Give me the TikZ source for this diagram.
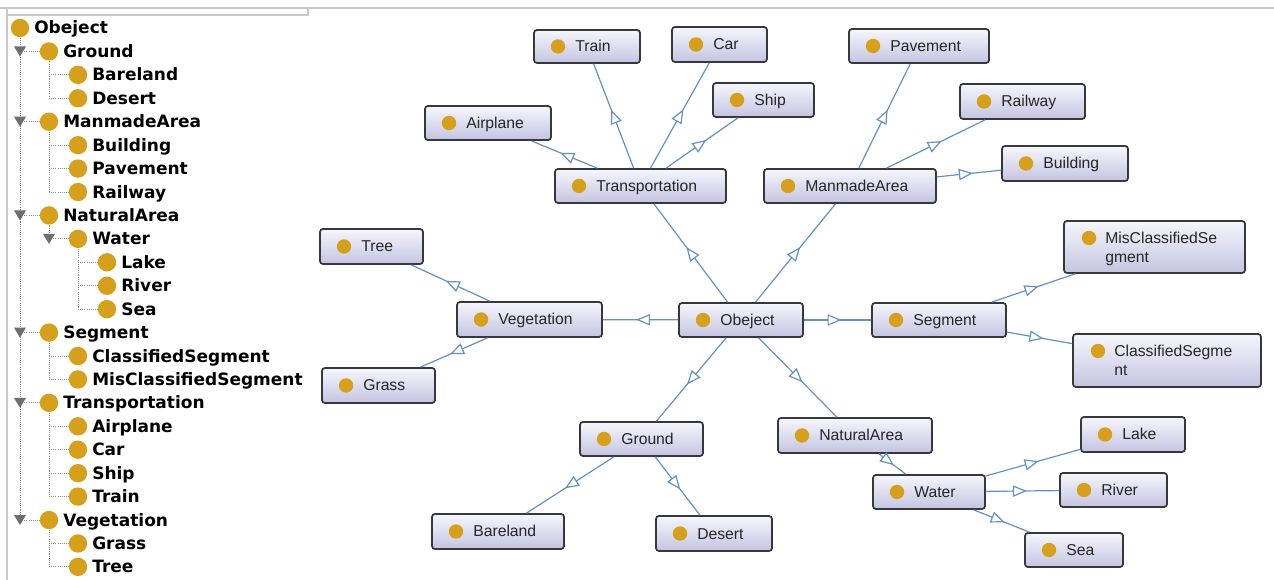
\documentclass[tikz,border=0pt]{standalone}
\usepackage{fontspec}
\setmainfont{Liberation Sans}
\newfontfamily\treefont{DejaVu Sans}
\usetikzlibrary{calc,arrows.meta,decorations.markings}
\definecolor{edgec}{RGB}{98,146,196}
\definecolor{dotc}{RGB}{214,160,28}
\definecolor{boxline}{RGB}{55,55,60}
\definecolor{boxtop}{RGB}{246,246,252}
\definecolor{boxbot}{RGB}{196,196,226}
\definecolor{framec}{RGB}{200,200,200}
\definecolor{treeline}{RGB}{140,140,140}
\definecolor{tric}{RGB}{110,110,110}
\tikzset{
 cbox/.style={draw=boxline, line width=1.3pt, rounded corners=2.2pt, top color=boxtop, bottom color=boxbot, inner sep=0pt},
 ctext/.style={inner sep=0pt, text=black!85, font=\fontsize{11.8pt}{14pt}\selectfont},
 ttext/.style={inner sep=0pt, font=\treefont\bfseries\fontsize{12.75pt}{15pt}\selectfont},
 isa/.style={draw=edgec, line width=0.9pt, postaction={decorate},
   decoration={markings, mark=at position 0.56 with {\arrow{Triangle[length=10.5pt, width=8.5pt, color=edgec, fill=white, line width=0.9pt]}}}},
 tline/.style={draw=treeline, dash pattern=on 0.8pt off 0.8pt, line width=0.7pt},
}
\newcommand\cls[6]{%
 \node[cbox, minimum width={(#4-#2)*0.75pt}, minimum height={(#5-#3)*0.75pt}] (#1) at ({(#2+#4)/2},{(#3+#5)/2}) {};
 \fill[dotc] ({#2+24},{(#3+#5)/2}) circle[radius=5.4pt];
 \node[ctext, anchor=base west] (#1-t) at ({#2+41},{(#3+#5)/2+5.5}) {#6};
}
\newcommand\clstwo[7]{%
 \node[cbox, minimum width={(#4-#2)*0.75pt}, minimum height={(#5-#3)*0.75pt}] (#1) at ({(#2+#4)/2},{(#3+#5)/2}) {};
 \fill[dotc] ({#2+25},{#3+17}) circle[radius=5.4pt];
 \node[ctext, anchor=base west] (#1-t) at ({#2+41},{#3+23}) {#6};
 \node[ctext, anchor=base west] (#1-u) at ({#2+41},{#3+42}) {#7};
}
\newcommand\titem[4]{%
 \fill[dotc] ({20+29*#2},{28+23.43*#3}) circle[radius=6.9pt];
 \node[ttext, anchor=base west] (#1) at ({34+29*#2},{28+23.43*#3+6}) {#4};
}
\newcommand\ttri[2]{\fill[tric] ({#1-6},{28+23.43*#2-5}) -- ({#1+6},{28+23.43*#2-5}) -- (#1,{28+23.43*#2+5}) -- cycle;}
\newcommand\tstub[3]{\draw[tline] (#1,{28+23.43*#3}) -- (#2,{28+23.43*#3});}
\newcommand\tvert[3]{\draw[tline] (#1,{28+23.43*#2+10}) -- (#1,{28+23.43*#3});}
\begin{document}
\begin{tikzpicture}[x=0.75pt,y=-0.75pt]
\useasboundingbox (0,0) rectangle (1274,580);
\fill[white] (0,0) rectangle (1274,580);
% frame
\draw[framec, line width=1.2pt] (0,8) -- (1274,8);
\draw[framec, line width=0.8pt] (7,8) rectangle (308,15);
\draw[framec, line width=0.8pt] (7,8) -- (7,580);
% tree lines
\tvert{20}{0}{21}
\foreach \r in {1,4,8,13,16,21} {\tstub{20}{40}{\r}}
\tvert{49}{1}{3}
\tvert{49}{4}{7}
\tvert{49}{8}{9}
\tvert{49}{13}{15}
\tvert{49}{16}{20}
\tvert{49}{21}{23}
\foreach \r in {2,3,5,6,7,9,14,15,17,18,19,20,22,23} {\tstub{49}{69}{\r}}
\tvert{78}{9}{12}
\foreach \r in {10,11,12} {\tstub{78}{98}{\r}}
\foreach \r in {1,4,8,13,16,21} {\ttri{20}{\r}}
\ttri{49}{9}
% tree items
\titem{l-obeject}{0}{0}{Obeject}
\titem{l-ground}{1}{1}{Ground}
\titem{l-bareland}{2}{2}{Bareland}
\titem{l-desert}{2}{3}{Desert}
\titem{l-manmade}{1}{4}{ManmadeArea}
\titem{l-building}{2}{5}{Building}
\titem{l-pavement}{2}{6}{Pavement}
\titem{l-railway}{2}{7}{Railway}
\titem{l-natural}{1}{8}{NaturalArea}
\titem{l-water}{2}{9}{Water}
\titem{l-lake}{3}{10}{Lake}
\titem{l-river}{3}{11}{River}
\titem{l-sea}{3}{12}{Sea}
\titem{l-segment}{1}{13}{Segment}
\titem{l-cls}{2}{14}{ClassifiedSegment}
\titem{l-miscls}{2}{15}{MisClassifiedSegment}
\titem{l-transport}{1}{16}{Transportation}
\titem{l-airplane}{2}{17}{Airplane}
\titem{l-car}{2}{18}{Car}
\titem{l-ship}{2}{19}{Ship}
\titem{l-train}{2}{20}{Train}
\titem{l-vegetation}{1}{21}{Vegetation}
\titem{l-grass}{2}{22}{Grass}
\titem{l-tree}{2}{23}{Tree}
% graph nodes
\cls{train}{534}{30}{640}{63}{Train}
\cls{car}{672}{27}{767}{62}{Car}
\cls{ship}{713}{83}{814}{117}{Ship}
\cls{airplane}{425}{106}{551}{140}{Airplane}
\cls{transport}{555}{169}{726}{203}{Transportation}
\cls{manmade}{764}{169}{936}{203}{ManmadeArea}
\cls{pavement}{849}{29}{989}{63}{Pavement}
\cls{railway}{960}{84}{1085}{119}{Railway}
\cls{building}{1002}{146}{1128}{181}{Building}
\cls{obeject}{679}{303}{803}{337}{Obeject}
\cls{segment}{872}{303}{1006}{337}{Segment}
\clstwo{miscls}{1064}{221}{1245}{273}{MisClassifiedSe}{gment}
\clstwo{clsseg}{1073}{334}{1261}{387}{ClassifiedSegme}{nt}
\cls{vegetation}{457}{302}{602}{337}{Vegetation}
\cls{treen}{320}{229}{423}{264}{Tree}
\cls{grass}{322}{368}{435}{403}{Grass}
\cls{ground}{580}{422}{703}{456}{Ground}
\cls{bareland}{432}{514}{564}{549}{Bareland}
\cls{desert}{656}{516}{772}{551}{Desert}
\cls{natural}{778}{418}{932}{453}{NaturalArea}
\cls{water}{873}{475}{985}{509}{Water}
\cls{lake}{1081}{417}{1185}{452}{Lake}
\cls{river}{1060}{473}{1167}{507}{River}
\cls{sea}{1025}{533}{1123}{567}{Sea}
% edges
\draw[isa] (obeject) -- (transport);
\draw[isa] (obeject) -- (manmade);
\draw[isa] (obeject) -- (vegetation);
\draw[isa] (obeject) -- (segment);
\draw[isa] (obeject) -- (ground);
\draw[isa] (obeject) -- (natural);
\draw[isa] (transport) -- (train);
\draw[isa] (transport) -- (car);
\draw[isa] (transport) -- (ship);
\draw[isa] (transport) -- (airplane);
\draw[isa] (manmade) -- (pavement);
\draw[isa] (manmade) -- (railway);
\draw[isa] (manmade) -- (building);
\draw[isa] (segment) -- (miscls);
\draw[isa] (segment) -- (clsseg);
\draw[isa] (vegetation) -- (treen);
\draw[isa] (vegetation) -- (grass);
\draw[isa] (ground) -- (bareland);
\draw[isa] (ground) -- (desert);
\draw[isa] (natural) -- (water);
\draw[isa] (water) -- (lake);
\draw[isa] (water) -- (river);
\draw[isa] (water) -- (sea);
\end{tikzpicture}
\end{document}
